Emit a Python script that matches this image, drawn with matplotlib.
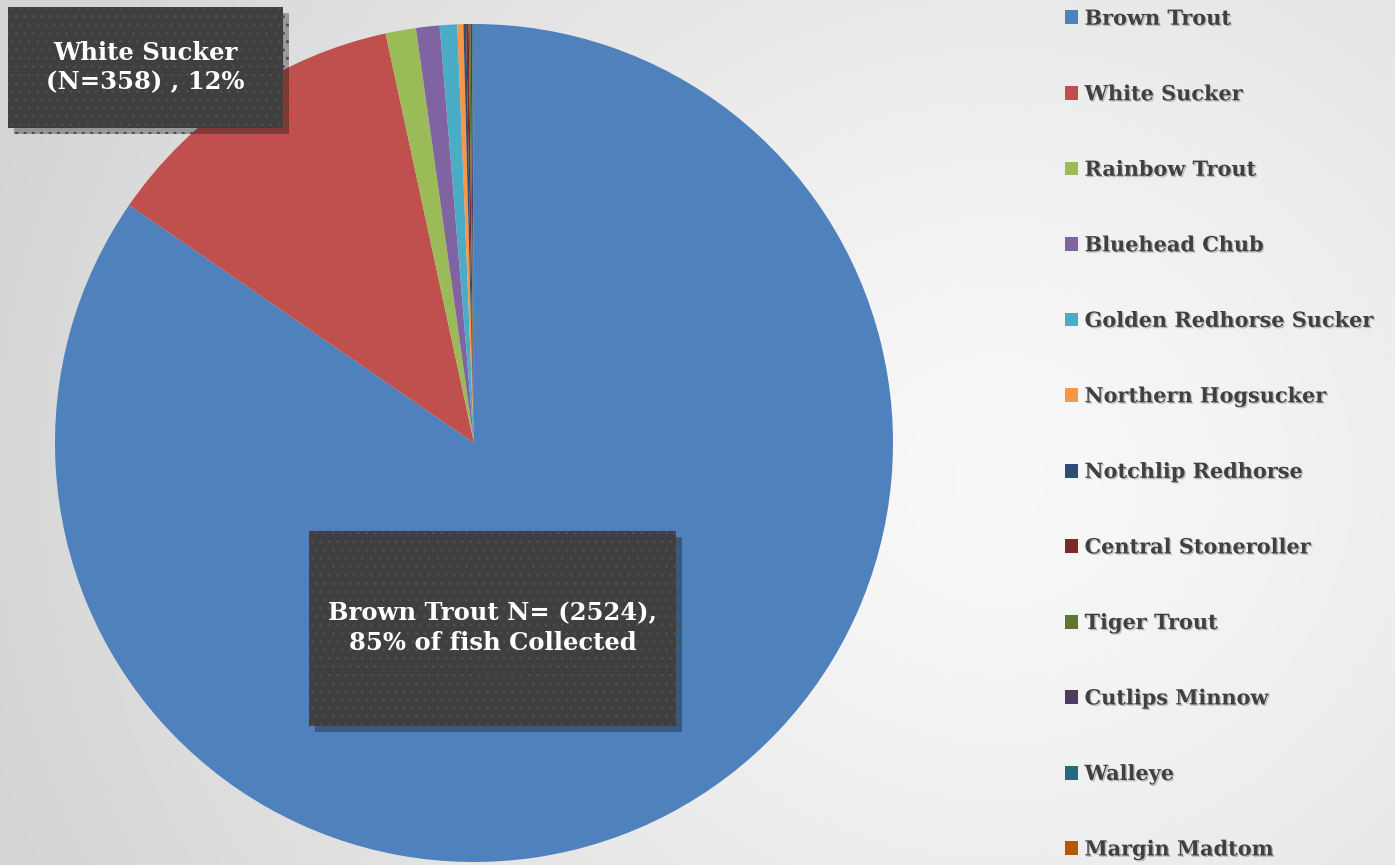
import matplotlib.pyplot as plt
import matplotlib.patheffects as pe
from matplotlib.patches import Rectangle
import numpy as np

species = ["Brown Trout", "White Sucker", "Rainbow Trout", "Bluehead Chub",
           "Golden Redhorse Sucker", "Northern Hogsucker", "Notchlip Redhorse",
           "Central Stoneroller", "Tiger Trout", "Cutlips Minnow", "Walleye",
           "Margin Madtom"]
counts = [2524, 358, 35, 27, 20, 7, 3, 3, 2, 2, 1, 1]
colors = ["#4F81BD", "#C0504D", "#9BBB59", "#8064A2", "#4BACC6", "#F79646",
          "#2C4D75", "#772C2A", "#5F7530", "#4D3B62", "#276A7C", "#B65708"]

W, H = 1395, 865
fig = plt.figure(figsize=(W / 100, H / 100), dpi=100)
plt.rcParams["font.family"] = ["DejaVu Serif"]

# radial grey background
bg = fig.add_axes([0, 0, 1, 1], zorder=-10)
yy, xx = np.mgrid[0:H, 0:W]
d = np.hypot(xx - 1000, (yy - 480) * 1.1) / 1050
shade = 0.975 - 0.14 * np.clip(d, 0, 1) ** 1.3
rgb = np.dstack([shade, shade, shade])
bg.imshow(rgb, extent=[0, W, H, 0], aspect="auto", interpolation="bilinear")
bg.set_xlim(0, W)
bg.set_ylim(H, 0)
bg.axis("off")

# pie
ax = fig.add_axes([55 / W, 3 / H, 838 / W, 838 / H])
wedges, _ = ax.pie(counts, colors=colors, startangle=90, counterclock=False,
                   radius=1.0, wedgeprops=dict(linewidth=0))
ax.set_xlim(-1, 1)
ax.set_ylim(-1, 1)
ax.set_aspect("equal")
ax.axis("off")

# annotation boxes in pixel coords on an overlay
over = fig.add_axes([0, 0, 1, 1], zorder=5)
over.set_xlim(0, W)
over.set_ylim(H, 0)
over.axis("off")

shadow = [pe.SimplePatchShadow(offset=(4, -4), shadow_rgbFace="#000000", alpha=0.3),
          pe.Normal()]


def label_box(x0, y0, x1, y1, text):
    rect = Rectangle((x0, y0), x1 - x0, y1 - y0,
                     facecolor="#3f3f3f", edgecolor="#4d4d4d", linewidth=0,
                     hatch="..", zorder=5)
    rect.set_path_effects(shadow)
    over.add_patch(rect)
    over.text((x0 + x1) / 2, (y0 + y1) / 2, text, ha="center", va="center",
              color="white", fontsize=17.5, fontweight="bold", linespacing=1.3,
              zorder=6)


total = sum(counts)
pct = [round(100 * c / total) for c in counts]
label_box(8, 7, 283, 128, f"{species[1]}\n(N={counts[1]}) , {pct[1]}%")
label_box(309, 531, 676, 726,
          f"{species[0]} N= ({counts[0]}),\n{pct[0]}% of fish Collected")

# legend
leg = fig.legend(wedges, species, loc="upper left",
                 bbox_to_anchor=(1046 / W, 1 + 10 / H), frameon=False,
                 handlelength=0.65, handleheight=0.65, handletextpad=0.3,
                 labelspacing=2.665, prop=dict(family="DejaVu Serif",
                                               weight="bold", size=15))
for t in leg.get_texts():
    t.set_color("#404040")
    t.set_path_effects([pe.withSimplePatchShadow(offset=(1, -1),
                                                 shadow_rgbFace="#9a9a9a",
                                                 alpha=0.6)])

fig.savefig("out.png", dpi=100)
